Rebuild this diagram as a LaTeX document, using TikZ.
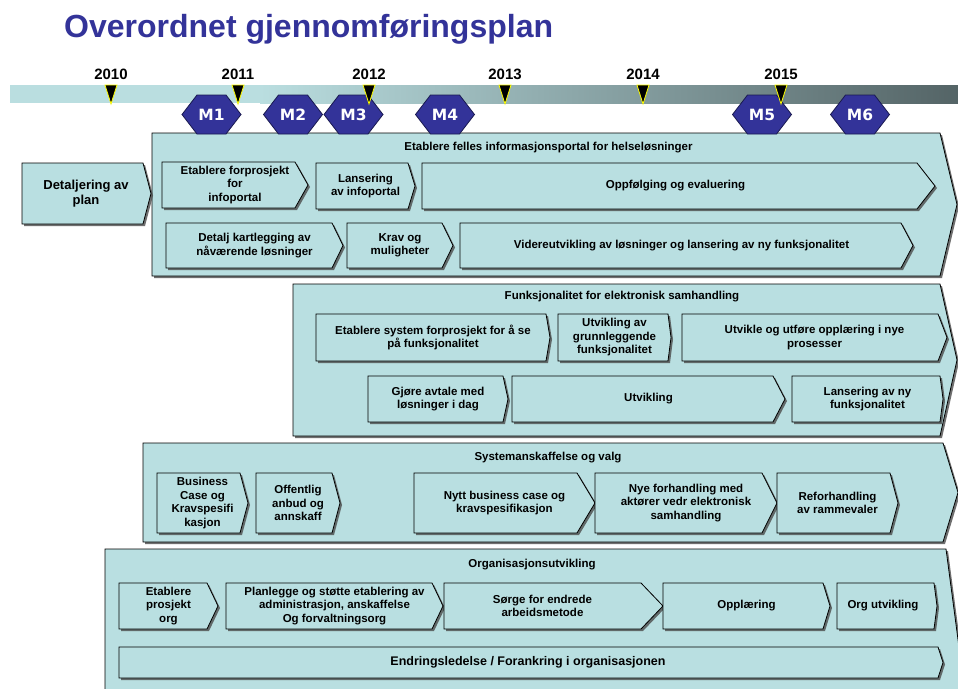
\documentclass[tikz,border=0pt]{standalone}
\usepackage{fontspec}
\setmainfont{Liberation Sans}
\newfontfamily\dvb{DejaVu Sans}
\usetikzlibrary{shadows}
\definecolor{boxfill}{RGB}{185,223,225}
\definecolor{titleblue}{RGB}{51,51,153}
\definecolor{hexblue}{RGB}{51,51,153}
\definecolor{hexedge}{RGB}{25,25,80}
\definecolor{barlight}{RGB}{186,222,224}
\definecolor{bardark}{RGB}{84,100,102}
\definecolor{triyellow}{RGB}{255,255,0}

\tikzset{
  box/.style={draw=black, line width=0.8pt, fill=boxfill,
    drop shadow={shadow xshift=2pt, shadow yshift=-2pt, fill=black!70, opacity=0.8}},
  txt/.style={font=\bfseries\fontsize{11.5}{13.5}\selectfont, align=center, inner sep=0pt, text=black},
  bandtxt/.style={txt},
  dettxt/.style={font=\bfseries\fontsize{13}{15}\selectfont, align=center, inner sep=0pt},
  yrtxt/.style={font=\bfseries\fontsize{15}{17}\selectfont, inner sep=0pt},
  hexsty/.style={fill=hexblue, draw=hexedge, line width=0.8pt},
  hextxt/.style={font=\dvb\bfseries\fontsize{15.5}{17}\selectfont, text=white, inner sep=0pt},
  tri/.style={fill=black, draw=triyellow, line width=0.8pt, line join=miter},
  titletxt/.style={font=\bfseries\fontsize{32}{36}\selectfont, text=titleblue, inner sep=0pt},
}

% #1 text x-shift, #2 name, #3 x0, #4 top, #5 corner x, #6 tip x, #7 bottom, #8 text
\newcommand\chev[8][0]{%
  \path[box] (#3,#4) -- (#5,#4) -- (#6,{(#4+#7)/2}) -- (#5,#7) -- (#3,#7) -- cycle;
  \node[txt] (#2) at ({(#3+#6)/2+(#1)},{(#4+#7)/2}) {#8};}

% #1 name, #2 x0, #3 top, #4 corner x, #5 tip x, #6 bottom
\newcommand\bandshape[6]{%
  \path[box] (#2,#3) -- (#4,#3) -- (#5,{(#3+#6)/2}) -- (#4,#6) -- (#2,#6) -- cycle;
  \coordinate (#1) at (#2,#3);}

% #1 name, #2 centre x, #3 text
\newcommand\hexm[3]{%
  \path[hexsty] (#2-29.5,114.5) -- (#2-14.5,95) -- (#2+14.5,95) -- (#2+29.5,114.5) -- (#2+14.5,134) -- (#2-14.5,134) -- cycle;
  \node[hextxt] (#1) at (#2,114.5) {#3};}

% #1 name, #2 x, #3 year
\newcommand\yrmark[3]{%
  \path[tri] (#2-6,85) -- (#2+6,85) -- (#2,104) -- cycle;
  \node[yrtxt, anchor=base] (#1) at (#2,79) {#3};}

\begin{document}
\begin{tikzpicture}[x=1pt, y=-1pt]
\useasboundingbox (0,0) rectangle (958,688);
\clip (0,0) rectangle (958,688);
\fill[white] (0,0) rectangle (958,688);

% title
\node[titletxt, anchor=base west] (title) at (64,37) {Overordnet gjennomføringsplan};

% timeline bar
\fill[barlight] (10,85) rectangle (261,103);
\shade[left color=barlight, right color=bardark] (260,85) rectangle (958,103);

% band 1
\bandshape{band1}{152}{133}{940}{957}{276}
\node[bandtxt] (band1lbl) at (548.5,148) {Etablere felles informasjonsportal for helseløsninger};
\chev{b1a}{162}{162}{295}{308}{208}{Etablere forprosjekt\\for\\infoportal}
\chev{b1b}{316}{163}{408}{415}{209}{Lansering\\av infoportal}
\chev[-3]{b1c}{422}{163}{917}{935}{209}{Oppfølging og evaluering}
\chev{b1d}{166}{223}{332}{343}{268}{Detalj kartlegging av\\nåværende løsninger}
\chev{b1e}{347}{223}{442}{453}{268}{Krav og\\muligheter}
\chev[-5]{b1f}{460}{223}{901}{913}{268}{Videreutvikling av løsninger og lansering av ny funksjonalitet}

% detaljering
\path[box] (22,163) -- (143,163) -- (151,193.5) -- (143,224) -- (22,224) -- cycle;
\node[dettxt] (det) at (86,193.5) {Detaljering av\\plan};

% band 2
\bandshape{band2}{293}{284}{940}{957}{436}
\node[bandtxt] (band2lbl) at (622,297) {Funksjonalitet for elektronisk samhandling};
\chev{b2a}{316}{314}{546}{550}{361}{Etablere system forprosjekt for å se\\på funksjonalitet}
\chev{b2b}{558}{314}{668}{671}{361}{\fontsize{11.5}{15}\selectfont Utvikling av\\grunnleggende\\funksjonalitet}
\chev{b2c}{682}{314}{938}{947}{361}{Utvikle og utføre opplæring i nye\\prosesser}
\chev{b2d}{368}{376}{503}{508}{422}{Gjøre avtale med\\løsninger i dag}
\chev{b2e}{512}{376}{773}{785}{422}{Utvikling}
\chev{b2f}{792}{376}{940}{943}{422}{Lansering av ny\\funksjonalitet}

% band 3
\bandshape{band3}{143}{443}{943}{958}{542}
\node[bandtxt] (band3lbl) at (548,458) {Systemanskaffelse og valg};
\chev{b3a}{157}{473}{240}{248}{533}{Business\\Case og\\Kravspesifi\\kasjon}
\chev{b3b}{256}{473}{332}{340}{533}{Offentlig\\anbud og\\annskaff}
\chev{b3c}{414}{473}{577}{595}{533}{Nytt business case og\\kravspesifikasjon}
\chev{b3d}{595}{473}{762}{777}{533}{Nye forhandling med\\aktører vedr elektronisk\\samhandling}
\chev{b3e}{777}{473}{890}{898}{533}{Reforhandling\\av rammevaler}

% band 4
\bandshape{band4}{105}{549}{946}{966}{851}
\node[bandtxt] (band4lbl) at (532,565) {Organisasjonsutvikling};
\chev{b4a}{119}{583}{207}{218}{629}{Etablere\\prosjekt\\org}
\chev{b4b}{226}{583}{432}{443}{629}{Planlegge og støtte etablering av\\administrasjon, anskaffelse\\Og forvaltningsorg}
\chev[-11]{b4c}{444}{583}{641}{663}{629}{Sørge for endrede\\arbeidsmetode}
\chev{b4d}{663}{583}{823}{830}{629}{Opplæring}
\chev[-4]{b4e}{837}{583}{934}{937}{629}{Org utvikling}
\chev[-3]{b4f}{119}{647}{938}{943}{678}{\fontsize{12.5}{14}\selectfont Endringsledelse / Forankring i organisasjonen}

% milestones
\hexm{m1}{211.5}{M1}
\hexm{m2}{293}{M2}
\hexm{m3}{353.5}{M3}
\hexm{m4}{445}{M4}
\hexm{m5}{762}{M5}
\hexm{m6}{860}{M6}

% years
\yrmark{y2010}{111}{2010}
\yrmark{y2011}{238}{2011}
\yrmark{y2012}{369}{2012}
\yrmark{y2013}{505}{2013}
\yrmark{y2014}{643}{2014}
\yrmark{y2015}{781}{2015}
\end{tikzpicture}
\end{document}
